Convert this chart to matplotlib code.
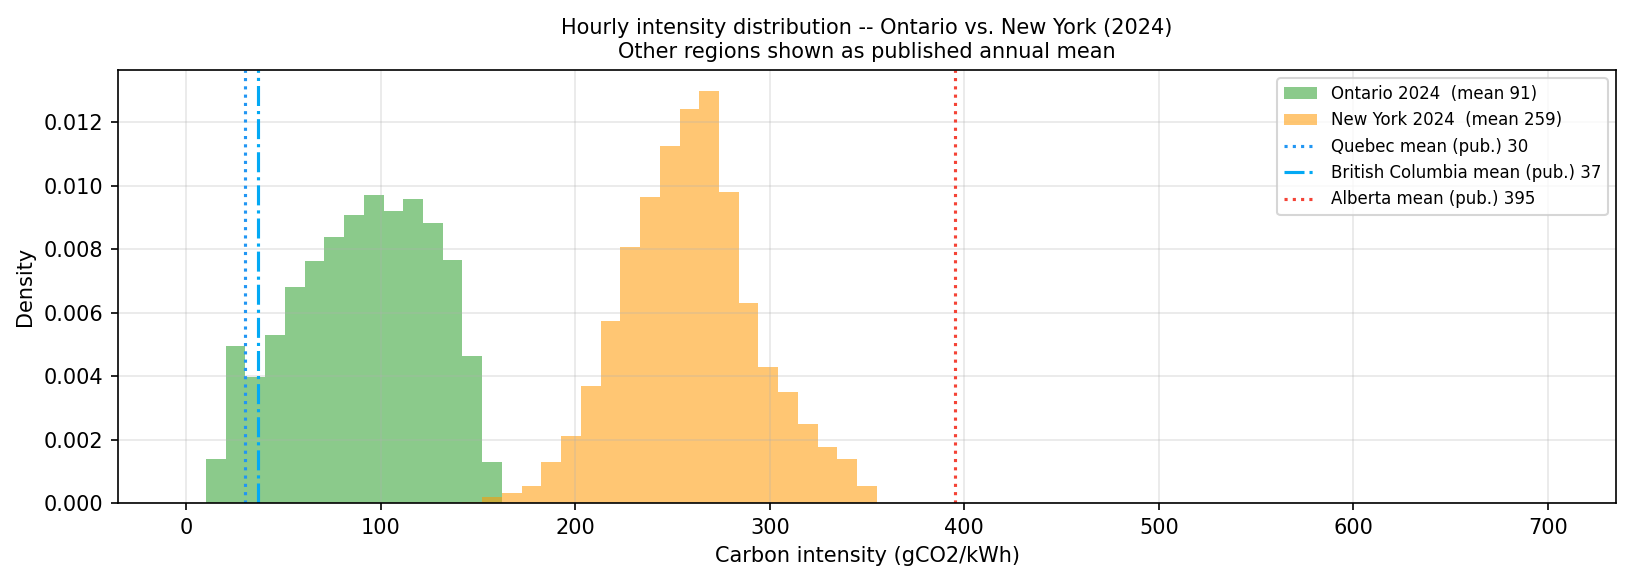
import matplotlib
matplotlib.use("Agg")
import matplotlib.pyplot as plt
import numpy as np

# bin edges used for both histograms (0..700, 69 bins)
bin_edges = np.linspace(0, 700, 70)
bin_centers = (bin_edges[:-1] + bin_edges[1:]) / 2

# densities, bins 1..15 (Ontario) and 14..34 (New York)
ontario_first_bin = 1
ontario_density = [0.00138, 0.00495, 0.00397, 0.00529, 0.00681, 0.00763, 0.00839,
                   0.00908, 0.00972, 0.00921, 0.00959, 0.00883, 0.00766, 0.00463,
                   0.00128]
newyork_first_bin = 14
newyork_density = [0.00003, 0.00018, 0.00031, 0.00053, 0.00128, 0.00211, 0.00368,
                   0.00574, 0.00807, 0.00965, 0.01126, 0.01243, 0.01300, 0.00981,
                   0.00631, 0.00428, 0.00349, 0.00248, 0.00176, 0.00139, 0.00053]

ontario_mean = 91
newyork_mean = 259
quebec_mean = 30
bc_mean = 37
alberta_mean = 395


def full_weights(first, vals):
    w = np.zeros(len(bin_centers))
    w[first:first + len(vals)] = vals
    return w


fig = plt.figure(figsize=(1633 / 150, 583 / 150), dpi=150)
ax = fig.add_axes([0.0723, 0.1372, 0.9173, 0.7427])

ax.hist(bin_centers, bins=bin_edges, weights=full_weights(ontario_first_bin, ontario_density),
        color="#2ca02c", alpha=0.55, label=f"Ontario 2024  (mean {ontario_mean})")
ax.hist(bin_centers, bins=bin_edges, weights=full_weights(newyork_first_bin, newyork_density),
        color="#ff9800", alpha=0.55, label=f"New York 2024  (mean {newyork_mean})")

ax.axvline(quebec_mean, color="#2196f3", linestyle=":", linewidth=1.5,
           label=f"Quebec mean (pub.) {quebec_mean}")
ax.axvline(bc_mean, color="#03a9f4", linestyle="-.", linewidth=1.5,
           label=f"British Columbia mean (pub.) {bc_mean}")
ax.axvline(alberta_mean, color="#f44336", linestyle=":", linewidth=1.5,
           label=f"Alberta mean (pub.) {alberta_mean}")

ax.set_xlabel("Carbon intensity (gCO2/kWh)")
ax.set_ylabel("Density")
ax.set_title("Hourly intensity distribution -- Ontario vs. New York (2024)\n"
             "Other regions shown as published annual mean", fontsize=10)
ax.grid(alpha=0.3)
ax.legend(fontsize=8, loc="upper right")

fig.savefig("out.png", dpi=150)
